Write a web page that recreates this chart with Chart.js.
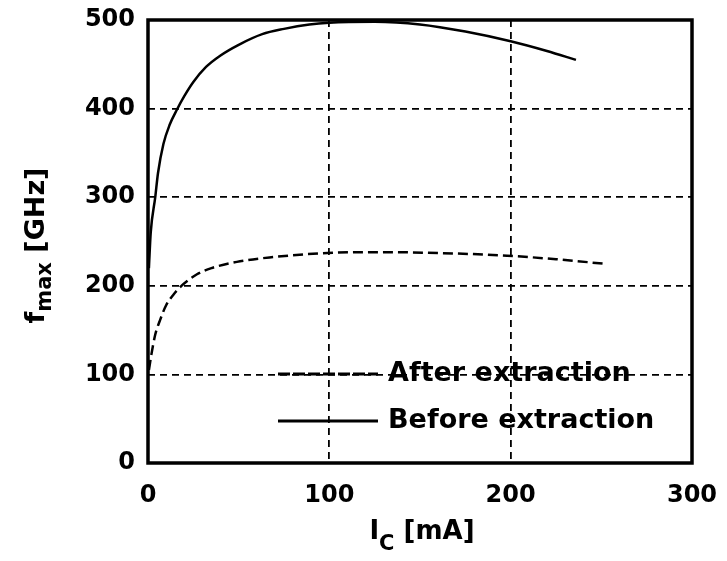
<!DOCTYPE html>
<html>
<head>
<meta charset="utf-8">
<script src="https://cdn.jsdelivr.net/npm/chart.js@4.4.0/dist/chart.umd.min.js"></script>
<style>
  html, body { margin: 0; padding: 0; background: #fff; }
  #wrap { width: 727px; height: 561px; }
</style>
</head>
<body>
<div id="wrap"><canvas id="fmaxChart" width="727" height="561"></canvas></div>
<script>
// Collector current I_C [mA] and f_max [GHz]
const beforeIc = [0.5, 1.5, 4, 5.5, 8.5, 12, 16, 20, 25, 32, 40, 50, 63, 75, 89, 100, 125, 150, 175, 200, 220, 236];
const beforeFmax = [220, 260, 300, 327, 360, 382, 399, 414, 430, 447, 460, 472, 484, 490, 495, 497, 498, 495, 487, 476, 465, 455];

const afterIc = [0.5, 2, 4, 6.6, 10, 14, 19, 27, 35, 49, 67, 99, 130, 160, 198, 225, 251];
const afterFmax = [105, 124, 145, 161, 178, 190, 201, 213, 220, 227, 232, 237, 238, 237, 234, 230, 225];

const xTicks = [0, 100, 200, 300];
const yTicks = [0, 100, 200, 300, 400, 500];

const FONT = '"DejaVu Sans", Arial, sans-serif';

function toPoints(xs, ys) {
    return xs.map((x, i) => ({ x: x, y: ys[i] }));
}

// draw "main" + subscript + rest starting at (x, y) on the current baseline
function subText(ctx, main, sub, rest, x, y, size, subSize, drop) {
    ctx.font = 'bold ' + size + 'px ' + FONT;
    const w1 = ctx.measureText(main).width;
    ctx.fillText(main, x, y);
    ctx.font = 'bold ' + subSize + 'px ' + FONT;
    const w2 = ctx.measureText(sub).width;
    ctx.fillText(sub, x + w1, y + drop);
    ctx.font = 'bold ' + size + 'px ' + FONT;
    ctx.fillText(rest, x + w1 + w2, y);
}

function subWidth(ctx, main, sub, rest, size, subSize) {
    ctx.font = 'bold ' + size + 'px ' + FONT;
    const w = ctx.measureText(main).width + ctx.measureText(rest).width;
    ctx.font = 'bold ' + subSize + 'px ' + FONT;
    return w + ctx.measureText(sub).width;
}

// Box, legend and axis titles (with subscripts) drawn on top of the chart
const decorations = {
    id: 'decorations',
    afterDraw(chart) {
        const ctx = chart.ctx;
        const a = chart.chartArea;
        ctx.save();

        // frame on all four sides
        ctx.strokeStyle = '#000';
        ctx.lineWidth = 3.5;
        ctx.setLineDash([]);
        ctx.strokeRect(a.left, a.top, a.right - a.left, a.bottom - a.top);

        // legend
        ctx.font = 'bold 27px ' + FONT;
        ctx.fillStyle = '#000';
        ctx.textBaseline = 'middle';
        ctx.textAlign = 'left';
        const rows = [
            { ds: chart.data.datasets[0], y: 374 },
            { ds: chart.data.datasets[1], y: 421 }
        ];
        rows.forEach(r => {
            ctx.lineWidth = 3;
            ctx.setLineDash(r.ds.borderDash ? [12, 3] : []);
            ctx.beginPath();
            ctx.moveTo(278, r.y);
            ctx.lineTo(378, r.y);
            ctx.stroke();
            ctx.setLineDash([]);
            ctx.fillText(r.ds.label, 388, r.y);
        });

        // x axis title: I_C [mA]
        ctx.textBaseline = 'alphabetic';
        const cx = (a.left + a.right) / 2 + 2;
        const wx = subWidth(ctx, 'I', 'C', ' [mA]', 26, 21);
        subText(ctx, 'I', 'C', ' [mA]', cx - wx / 2, 539, 26, 21, 11);

        // y axis title: f_max [GHz]
        ctx.translate(44, (a.top + a.bottom) / 2 + 4);
        ctx.rotate(-Math.PI / 2);
        const wy = subWidth(ctx, 'f', 'max', ' [GHz]', 27, 21);
        subText(ctx, 'f', 'max', ' [GHz]', -wy / 2, 0, 27, 21, 7);

        ctx.restore();
    }
};

const ctx = document.getElementById('fmaxChart').getContext('2d');
new Chart(ctx, {
    type: 'line',
    data: {
        datasets: [
            {
                label: 'After extraction',
                data: toPoints(afterIc, afterFmax),
                borderColor: '#000',
                borderWidth: 2.5,
                borderDash: [10, 5],
                pointRadius: 0,
                cubicInterpolationMode: 'monotone',
                fill: false
            },
            {
                label: 'Before extraction',
                data: toPoints(beforeIc, beforeFmax),
                borderColor: '#000',
                borderWidth: 2.5,
                pointRadius: 0,
                cubicInterpolationMode: 'monotone',
                fill: false
            }
        ]
    },
    options: {
        responsive: false,
        animation: false,
        layout: { padding: { left: 0, top: 20, right: 35, bottom: 0 } },
        plugins: {
            legend: { display: false },
            tooltip: { enabled: false }
        },
        scales: {
            x: {
                type: 'linear',
                min: 0,
                max: 300,
                afterBuildTicks: (scale) => { scale.ticks = xTicks.map(v => ({ value: v })); },
                afterFit: (scale) => {
                    scale.height = 98;
                    scale.paddingLeft = 0;
                    scale.paddingRight = 0;
                },
                grid: {
                    color: '#000',
                    lineWidth: 1.8,
                    drawTicks: false
                },
                border: { display: false, dash: [7, 5] },
                ticks: {
                    color: '#000',
                    padding: 18,
                    font: { family: FONT, size: 24, weight: 'bold' }
                }
            },
            y: {
                min: 0,
                max: 500,
                afterBuildTicks: (scale) => { scale.ticks = yTicks.map(v => ({ value: v })); },
                afterFit: (scale) => {
                    scale.width = 148;
                    scale.paddingTop = 0;
                    scale.paddingBottom = 0;
                },
                grid: {
                    color: '#000',
                    lineWidth: 1.8,
                    drawTicks: false
                },
                border: { display: false, dash: [7, 5] },
                ticks: {
                    color: '#000',
                    padding: 13,
                    font: { family: FONT, size: 24, weight: 'bold' }
                }
            }
        }
    },
    plugins: [decorations]
});
</script>
</body>
</html>
